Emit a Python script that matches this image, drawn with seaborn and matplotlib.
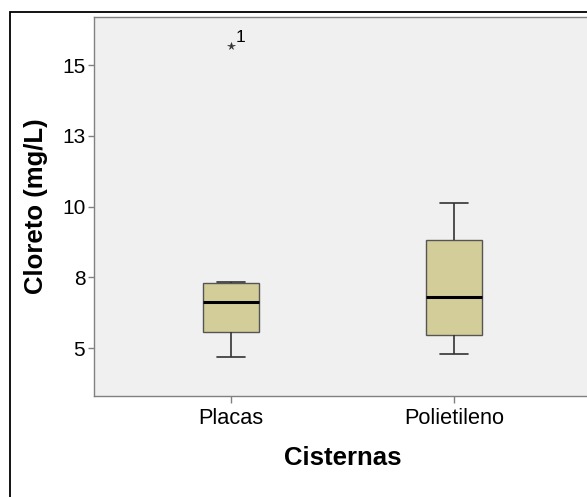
import matplotlib
matplotlib.use("Agg")
import matplotlib.pyplot as plt
import seaborn as sns
import pandas as pd
from matplotlib.patches import Rectangle

# ---- data ----
categories = ["Placas", "Polietileno"]
placas_values = [4.70, 5.45, 5.69, 6.64, 7.27, 7.33, 15.67]
polietileno_values = [4.79, 5.30, 5.62, 6.82, 8.50, 9.16, 10.12]
outlier_case_label = "1"
outlier_value = 15.67
y_ticks = [5.0, 7.5, 10.0, 12.5, 15.0]
y_tick_labels = ["5", "8", "10", "13", "15"]
x_label = "Cisternas"
y_label = "Cloreto (mg/L)"

df = pd.DataFrame({
    "Cisternas": [categories[0]] * len(placas_values) + [categories[1]] * len(polietileno_values),
    "Cloreto": placas_values + polietileno_values,
})

sns.set_theme(style="white")
plt.rcParams["font.family"] = ["Liberation Sans", "DejaVu Sans"]

W, H = 587, 497
fig = plt.figure(figsize=(W / 100, H / 100), dpi=100)
left, right, top, bottom = 94, 591, 17, 396
ax = fig.add_axes([left / W, 1 - bottom / H, (right - left) / W, (bottom - top) / H])
ax.set_facecolor("#F0F0F0")

sns.boxplot(
    data=df, x="Cisternas", y="Cloreto", order=categories, ax=ax,
    color="#D3CE99", saturation=1, width=0.254, whis=1.5,
    linewidth=1.0, linecolor="#444444",
    boxprops=dict(edgecolor="#555555", linewidth=1.0),
    medianprops=dict(color="black", linewidth=2.2),
    whiskerprops=dict(color="#333333", linewidth=1.2),
    capprops=dict(color="#333333", linewidth=1.2),
    flierprops=dict(marker="*", markersize=5.5, markerfacecolor="#333333",
                    markeredgecolor="#333333", markeredgewidth=0.4),
)

ax.annotate(outlier_case_label, xy=(0, outlier_value), xytext=(3.5, 1),
            textcoords="offset points", ha="left", va="bottom",
            fontsize=12.5, color="black")

ax.set_xlim(-0.614, 1.614)
ax.set_ylim(3.31, 16.70)
ax.set_yticks(y_ticks)
ax.set_yticklabels(y_tick_labels)

for sp in ax.spines.values():
    sp.set_visible(True)
    sp.set_color("#808080")
    sp.set_linewidth(1.0)

ax.tick_params(axis="y", which="major", direction="out", length=4.3, width=1,
               color="#808080", pad=2, labelsize=15, labelcolor="black", left=True)
ax.tick_params(axis="x", which="major", direction="out", length=5, width=1,
               color="#808080", pad=4, labelsize=15.7, labelcolor="black", bottom=True)

ax.set_xlabel(x_label, fontsize=18.5, fontweight="bold", color="black", labelpad=12)
ax.set_ylabel(y_label, fontsize=18.5, fontweight="bold", color="black", labelpad=10)

# outer frame (SPSS chart border)
fig.patches.append(Rectangle((10 / W, -0.1), 1.2, 0.1 + 1 - 12 / H,
                             transform=fig.transFigure, fill=False,
                             edgecolor="black", linewidth=1.3, zorder=0))

fig.savefig("out.png", dpi=100)
